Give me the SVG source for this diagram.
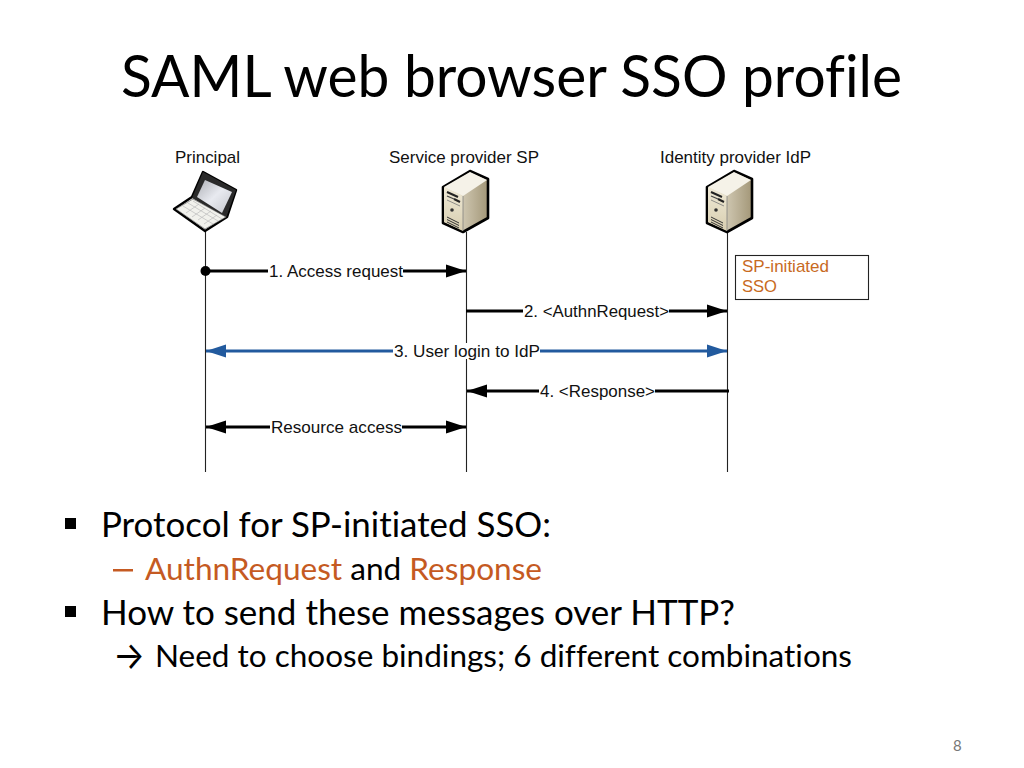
<svg xmlns="http://www.w3.org/2000/svg" width="1024" height="768" viewBox="0 0 1024 768">
<style>
.d{font-family:"Liberation Sans",Arial,sans-serif;font-size:17px;fill:#111}
.c{font-family:Lato,"Open Sans",sans-serif;fill:#000;font-variant-ligatures:none}
.o{fill:#c55a22}
.ln{stroke:#222;stroke-width:1.1;fill:none}
.m{stroke:#000;stroke-width:2.8;fill:none}
.b{stroke:#225a9e;stroke-width:2.8;fill:none}
</style>
<defs>
<linearGradient id="gs" x1="0" y1="0" x2="1" y2="0"><stop offset="0" stop-color="#f0ebdc"/><stop offset="1" stop-color="#a39778"/></linearGradient>
<linearGradient id="gf" x1="0" y1="0" x2="0" y2="1"><stop offset="0" stop-color="#efe9d6"/><stop offset="1" stop-color="#d8ceb0"/></linearGradient>
<linearGradient id="gl" x1="0" y1="0" x2="1" y2="1"><stop offset="0" stop-color="#aeb0b6"/><stop offset=".5" stop-color="#e8eaf0"/><stop offset="1" stop-color="#c4c6cc"/></linearGradient>
<marker id="ak" markerUnits="userSpaceOnUse" markerWidth="22" markerHeight="14" refX="20" refY="7" orient="auto-start-reverse"><path d="M0 0.500L20 7L0 13.500z" fill="#000"/></marker>
<marker id="ab" markerUnits="userSpaceOnUse" markerWidth="22" markerHeight="14" refX="20" refY="7" orient="auto-start-reverse"><path d="M0 0.500L20 7L0 13.500z" fill="#225a9e"/></marker>
<g id="server">
<path d="M4 -31L-23 -15V21L-3 30L22 16V-23z" fill="url(#gs)" stroke="#000" stroke-width="2.6" stroke-linejoin="round"/>
<path d="M4 -30L-22 -15L-3 -6L21 -22z" fill="#f5f2e8"/>
<path d="M-22 -15L-3 -6V29L-22 20z" fill="url(#gf)"/>
<path d="M-3 -6V29" stroke="#777" stroke-width=".7"/>
<path d="M-19 -10L-8 -5M-12 -3L-6 0" stroke="#222" stroke-width="2"/>
<path d="M-19 -6L-12 -3" stroke="#444" stroke-width="1.2"/>
<path d="M-19 -2L-6 4" stroke="#777" stroke-width=".8"/>
<circle cx="-14" cy="8" r="1.800" fill="#333"/>
<path d="M-19 15L-7 21M-19 17.500L-7 23.500M-19 20L-7 26" stroke="#333" stroke-width="1"/>
</g>
</defs>
<rect width="1024" height="768" fill="#fff"/>
<text class="c" x="121" y="97" font-size="59" textLength="781" lengthAdjust="spacingAndGlyphs">SAML web browser SSO profile</text>

<g id="connectors">
<path class="ln" d="M205.500 230V472M466.500 232V472M727.500 232V472"/>
<path class="m" d="M206 271H268"/>
<path class="m" d="M403 271H466" marker-end="url(#ak)"/>
<circle cx="205.500" cy="271" r="5" fill="#000"/>
<path class="m" d="M466 311H523"/>
<path class="m" d="M669 311H727" marker-end="url(#ak)"/>
<path class="b" d="M393 351H206" marker-end="url(#ab)"/>
<path class="b" d="M540 351H727" marker-end="url(#ab)"/>
<path class="m" d="M539 391H467" marker-end="url(#ak)"/>
<path class="m" d="M655 391H729"/>
<path class="m" d="M270 427H206" marker-end="url(#ak)"/>
<path class="m" d="M402 427H466" marker-end="url(#ak)"/>
</g>

<g id="principal">
<text class="d" x="175" y="163" textLength="65" lengthAdjust="spacingAndGlyphs">Principal</text>
<path d="M203 172L236 190L227 217L205 231L174 209L192 197z" fill="#fff" stroke="#000" stroke-width="2.400" stroke-linejoin="round"/>
<path d="M203 172L236 190L226 218L192 198z" fill="#2a2a2a"/>
<path d="M205 180L232 192L222 213L197 197z" fill="url(#gl)"/>
<path d="M176 209L193 199L226 217L205 229z" fill="#f1f1ec" stroke="#555" stroke-width=".6"/>
<path d="M183 206L213 224M188 203L218 221M193 201L222 219M186 213L199 204M192 217L205 208M198 220L211 211M204 224L217 215" stroke="#bbb" stroke-width=".7"/>
</g>
<g id="sp">
<text class="d" x="389" y="163" textLength="150" lengthAdjust="spacingAndGlyphs">Service provider SP</text>
<use href="#server" x="466" y="202"/>
</g>
<g id="idp">
<text class="d" x="660" y="163" textLength="151" lengthAdjust="spacingAndGlyphs">Identity provider IdP</text>
<use href="#server" x="730" y="202"/>
</g>

<g id="label-1"><text class="d" x="269" y="277" textLength="134" lengthAdjust="spacingAndGlyphs">1. Access request</text></g>
<g id="label-2"><text class="d" x="524" y="317" textLength="145" lengthAdjust="spacingAndGlyphs">2. &lt;AuthnRequest&gt;</text></g>
<g id="label-3"><rect x="394" y="343" width="146" height="16" fill="#fff"/><text class="d" x="394" y="357" textLength="146" lengthAdjust="spacingAndGlyphs">3. User login to IdP</text></g>
<g id="label-4"><text class="d" x="540" y="397" textLength="115" lengthAdjust="spacingAndGlyphs">4. &lt;Response&gt;</text></g>
<g id="label-5"><text class="d" x="271" y="433" textLength="131" lengthAdjust="spacingAndGlyphs">Resource access</text></g>
<g id="note">
<rect x="735.500" y="255.500" width="133" height="44" fill="#fff" stroke="#222" stroke-width="1.100"/>
<text class="d" x="742" y="272" textLength="87" lengthAdjust="spacingAndGlyphs" style="fill:#c86a1e">SP-initiated</text>
<text class="d" x="742" y="292" textLength="35" lengthAdjust="spacingAndGlyphs" style="fill:#c86a1e">SSO</text>
</g>

<rect x="65" y="518" width="11" height="11" fill="#000"/>
<text class="c" x="101" y="537" font-size="34" textLength="450" lengthAdjust="spacingAndGlyphs">Protocol for SP-initiated SSO:</text>
<rect x="113" y="569" width="20" height="2.500" fill="#c55a22"/>
<text class="c" x="145" y="580" font-size="30" textLength="397" lengthAdjust="spacingAndGlyphs"><tspan class="o">AuthnRequest</tspan> and <tspan class="o">Response</tspan></text>
<rect x="65" y="606" width="11" height="11" fill="#000"/>
<text class="c" x="101" y="625" font-size="34" textLength="634" lengthAdjust="spacingAndGlyphs">How to send these messages over HTTP?</text>
<text x="113" y="669" font-family="Inter,sans-serif" font-size="38" fill="#000" textLength="32" lengthAdjust="spacingAndGlyphs">→</text>
<text class="c" x="155" y="667" font-size="30" textLength="697" lengthAdjust="spacingAndGlyphs">Need to choose bindings; 6 different combinations</text>
<text x="953" y="751" font-family="Lato,sans-serif" font-size="15" fill="#777">8</text>
</svg>
